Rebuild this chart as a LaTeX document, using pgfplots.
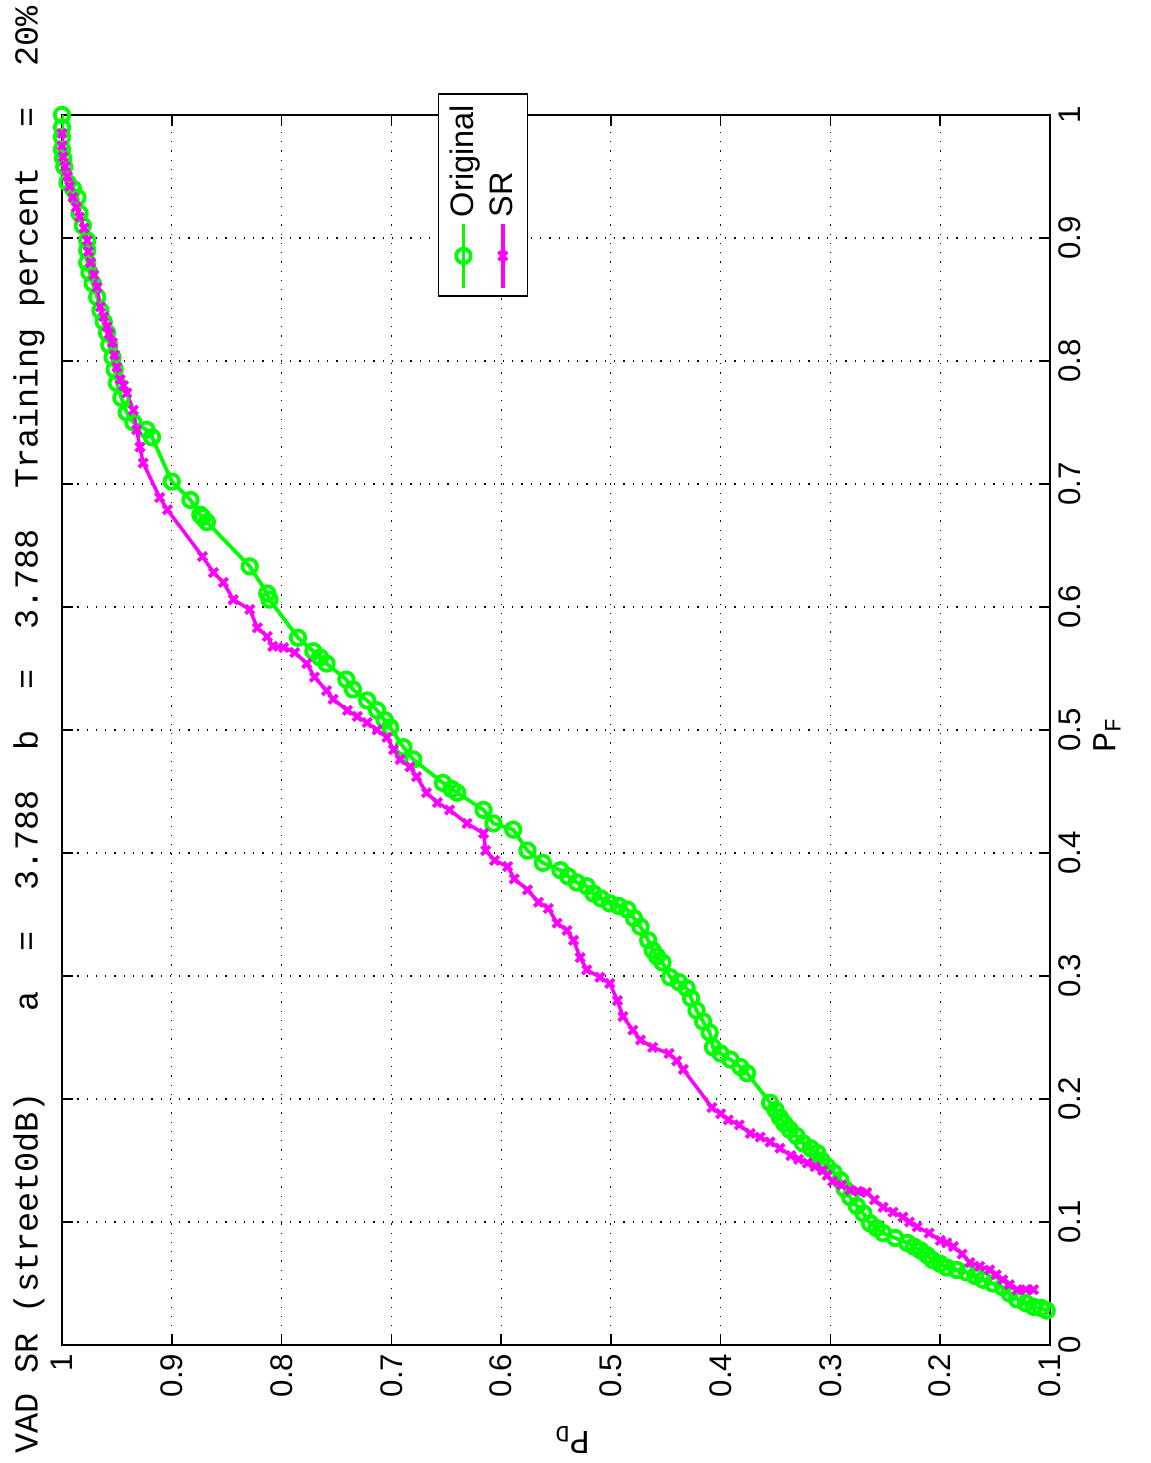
\documentclass[border=0pt]{standalone}
\usepackage{fontspec}
\setmainfont{Liberation Sans}
\setmonofont{Liberation Mono}
\usepackage{pgfplots}
\pgfplotsset{compat=1.18}
\definecolor{mgreen}{rgb}{0,1,0}
\definecolor{mmag}{rgb}{1,0,1}
\pgfplotstableread{
pd pf
0.103 0.028
0.108 0.030
0.115 0.031
0.122 0.034
0.130 0.037
0.137 0.042
0.143 0.047
0.152 0.050
0.161 0.053
0.168 0.056
0.176 0.059
0.185 0.061
0.194 0.063
0.200 0.066
0.207 0.069
0.212 0.073
0.218 0.077
0.224 0.080
0.230 0.083
0.241 0.087
0.252 0.091
0.258 0.095
0.264 0.099
0.270 0.107
0.276 0.113
0.282 0.120
0.287 0.127
0.291 0.134
0.297 0.140
0.303 0.145
0.308 0.150
0.312 0.156
0.318 0.160
0.325 0.164
0.331 0.170
0.337 0.175
0.342 0.180
0.346 0.185
0.350 0.191
0.355 0.197
0.376 0.221
0.382 0.226
0.391 0.232
0.400 0.237
0.407 0.242
0.410 0.254
0.416 0.263
0.422 0.272
0.427 0.282
0.431 0.290
0.438 0.295
0.446 0.299
0.453 0.311
0.458 0.316
0.462 0.321
0.466 0.329
0.473 0.340
0.479 0.347
0.485 0.354
0.493 0.357
0.501 0.359
0.509 0.363
0.516 0.367
0.522 0.373
0.531 0.376
0.539 0.381
0.546 0.386
0.562 0.392
0.576 0.402
0.589 0.419
0.607 0.424
0.616 0.435
0.640 0.449
0.645 0.452
0.653 0.457
0.680 0.476
0.689 0.486
0.701 0.502
0.706 0.508
0.713 0.516
0.722 0.524
0.735 0.533
0.741 0.541
0.759 0.554
0.765 0.559
0.771 0.564
0.785 0.575
0.811 0.606
0.813 0.611
0.829 0.633
0.868 0.669
0.872 0.673
0.874 0.675
0.883 0.687
0.900 0.702
0.918 0.738
0.923 0.744
0.935 0.750
0.941 0.758
0.946 0.770
0.950 0.782
0.952 0.793
0.954 0.803
0.957 0.813
0.959 0.823
0.962 0.832
0.965 0.841
0.968 0.852
0.972 0.863
0.975 0.872
0.977 0.880
0.977 0.890
0.977 0.898
0.981 0.910
0.984 0.920
0.986 0.933
0.990 0.940
0.995 0.945
0.998 0.958
0.999 0.965
1.000 0.972
1.000 0.982
1.000 0.990
1.000 1.000
}\original
\pgfplotstableread{
pd pf
0.115 0.045
0.122 0.045
0.130 0.045
0.137 0.049
0.143 0.053
0.149 0.057
0.155 0.061
0.164 0.064
0.173 0.067
0.180 0.074
0.188 0.080
0.194 0.083
0.200 0.085
0.210 0.091
0.221 0.096
0.228 0.100
0.234 0.104
0.243 0.108
0.252 0.112
0.260 0.118
0.267 0.124
0.275 0.125
0.282 0.126
0.290 0.130
0.298 0.133
0.303 0.138
0.307 0.142
0.314 0.145
0.321 0.148
0.329 0.151
0.336 0.154
0.346 0.160
0.355 0.165
0.364 0.169
0.373 0.172
0.383 0.179
0.393 0.183
0.400 0.188
0.408 0.193
0.434 0.224
0.440 0.231
0.447 0.237
0.462 0.242
0.473 0.248
0.480 0.256
0.489 0.267
0.494 0.280
0.501 0.294
0.510 0.299
0.522 0.305
0.528 0.315
0.534 0.329
0.540 0.337
0.549 0.343
0.557 0.355
0.566 0.360
0.576 0.370
0.588 0.379
0.594 0.389
0.606 0.394
0.614 0.402
0.616 0.416
0.631 0.424
0.647 0.435
0.658 0.441
0.668 0.449
0.677 0.462
0.683 0.470
0.692 0.476
0.698 0.484
0.704 0.494
0.713 0.500
0.722 0.506
0.731 0.511
0.740 0.516
0.753 0.525
0.759 0.532
0.770 0.543
0.777 0.554
0.788 0.563
0.798 0.567
0.808 0.568
0.813 0.576
0.822 0.583
0.829 0.598
0.844 0.606
0.853 0.620
0.862 0.628
0.872 0.641
0.904 0.679
0.911 0.689
0.926 0.717
0.929 0.730
0.932 0.744
0.935 0.760
0.941 0.774
0.944 0.780
0.947 0.785
0.950 0.795
0.952 0.805
0.954 0.815
0.957 0.822
0.959 0.828
0.962 0.836
0.965 0.844
0.968 0.860
0.971 0.870
0.974 0.880
0.976 0.889
0.977 0.898
0.980 0.908
0.984 0.917
0.987 0.925
0.990 0.933
0.993 0.942
0.995 0.950
0.997 0.958
0.999 0.966
1.000 0.975
1.000 0.985
}\sr
\begin{document}
\begin{tikzpicture}
\useasboundingbox (-420pt,-47.2pt) rectangle (40pt,538pt);
\begin{scope}[transform canvas={rotate=90}]
\begin{axis}[
  scale only axis, width=492pt, height=395.2pt,
  at={(0,0)}, anchor=south west,
  xmin=0, xmax=1, ymin=0.1, ymax=1,
  xtick={0,0.1,0.2,0.3,0.4,0.5,0.6,0.7,0.8,0.9,1},
  xticklabels={0,0.1,0.2,0.3,0.4,0.5,0.6,0.7,0.8,0.9,1},
  ytick={0.1,0.2,0.3,0.4,0.5,0.6,0.7,0.8,0.9,1},
  yticklabels={0.1,0.2,0.3,0.4,0.5,0.6,0.7,0.8,0.9,1},
  tick pos=both,
  tick align=inside,
  major tick length=4.5pt,
  grid=major,
  major grid style={black, line width=0.45pt, dash pattern=on 0.5pt off 3.2pt},
  axis line style={black, line width=0.8pt},
  tick style={black, line width=0.6pt},
  /pgf/number format/assume math mode=true,
  ticklabel style={font=\fontsize{12.5}{14}\selectfont},
  every axis title/.style={at={(axis description cs:0.5,1)}, anchor=south, yshift=6.8pt, inner sep=0pt, font=\ttfamily\fontsize{13.4}{15}\selectfont},
  title={\ttfamily VAD~SR~(street0dB)~~~~a~~=~~3.788~~b~~=~~3.788~~Training~percent~~=~~20\%},
  every axis x label/.style={at={(axis description cs:0.496,-0.0577)}, anchor=center, inner sep=0pt, font=\ttfamily\fontsize{13.4}{15}\selectfont},
  xlabel={\ttfamily P\textsubscript{F}},
  every axis y label/.style={at={(axis description cs:-0.0772,0.4838)}, anchor=center, rotate=90, inner sep=0pt, font=\ttfamily\fontsize{13.4}{15}\selectfont},
  ylabel={\ttfamily P\textsubscript{D}},
  legend style={at={(axis description cs:0.935,0.574)}, anchor=center, draw=black, line width=0.6pt, fill=white, font=\fontsize{13}{15}\selectfont, row sep=1pt, inner sep=2.5pt},
  legend cell align=left,
  legend image code/.code={\draw[mark repeat=2,mark phase=2,#1] plot coordinates {(0cm,0cm) (0.45cm,0cm) (0.9cm,0cm)};},
]
\addplot[color=mgreen, line width=1.5pt, mark=o, mark size=2.9pt, mark options={solid, line width=1.5pt}] table[x=pf, y=pd] {\original};
\addlegendentry{Original}
\addplot[color=mmag, line width=1.4pt, mark=x, mark size=2.4pt, mark options={solid, line width=1.5pt}] table[x=pf, y=pd] {\sr};
\addlegendentry{SR}
\end{axis}
\end{scope}
\end{tikzpicture}
\end{document}
